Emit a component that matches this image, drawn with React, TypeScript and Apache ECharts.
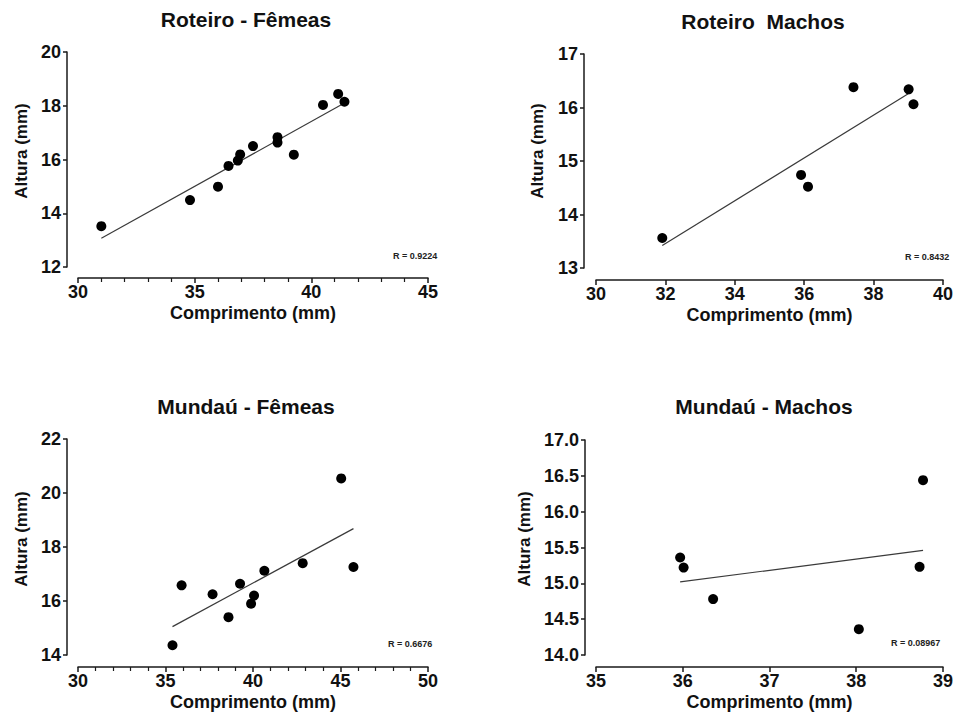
import React, { useEffect, useRef } from "react";
import * as echarts from "echarts";

// Panel titles
const titles = ["Roteiro - Fêmeas", "Roteiro  Machos", "Mundaú - Fêmeas", "Mundaú - Machos"];
const rLabels = ["R = 0.9224", "R = 0.8432", "R = 0.6676", "R = 0.08967"];

// Roteiro - Fêmeas
const rfX = [31.0, 34.8, 36.0, 36.45, 36.85, 36.95, 37.5, 38.55, 38.55, 39.25, 40.5, 41.15, 41.42];
const rfY = [13.52, 14.49, 14.99, 15.76, 15.96, 16.19, 16.5, 16.83, 16.63, 16.18, 18.03, 18.44, 18.15];
const rfFitX = [31.0, 41.42];
const rfFitY = [13.07, 18.1];

// Roteiro Machos
const rmX = [31.91, 35.91, 36.11, 37.42, 39.01, 39.15];
const rmY = [13.56, 14.74, 14.52, 16.38, 16.34, 16.06];
const rmFitX = [31.91, 39.01];
const rmFitY = [13.42, 16.26];

// Mundaú - Fêmeas
const mfX = [35.4, 35.92, 37.69, 38.6, 39.26, 39.89, 40.06, 40.65, 42.84, 45.04, 45.74];
const mfY = [14.36, 16.58, 16.25, 15.4, 16.64, 15.9, 16.2, 17.12, 17.4, 20.54, 17.26];
const mfFitX = [35.4, 45.74];
const mfFitY = [15.05, 18.68];

// Mundaú - Machos
const mmX = [35.97, 36.01, 36.35, 38.03, 38.73, 38.77];
const mmY = [15.36, 15.22, 14.78, 14.36, 15.23, 16.44];
const mmFitX = [35.97, 38.77];
const mmFitY = [15.02, 15.46];

// Axis ranges / tick intervals
const xMins = [30, 30, 30, 35];
const xMaxs = [45, 40, 50, 39];
const xIntervals = [5, 2, 5, 1];
const xMinorSplits = [5, 0, 5, 0];
const yMins = [12, 13, 14, 14];
const yMaxs = [20, 17, 22, 17];
const yIntervals = [2, 1, 2, 0.5];
const yDecimals = [0, 0, 0, 1];

const xName = "Comprimento (mm)";
const yName = "Altura (mm)";

const pointsX = [rfX, rmX, mfX, mmX];
const pointsY = [rfY, rmY, mfY, mmY];
const fitsX = [rfFitX, rmFitX, mfFitX, mmFitX];
const fitsY = [rfFitY, rmFitY, mfFitY, mmFitY];

// layout
const grids = [
  { left: 78, top: 52, width: 350, height: 215 },
  { left: 596, top: 54, width: 348, height: 214 },
  { left: 78, top: 439, width: 350, height: 216 },
  { left: 596, top: 440, width: 350, height: 215 },
];
const xOffsets = [11, 12, 12, 12];
const yOffsets = [11, 12, 11, 11];
const titlePos = [
  [246, 19],
  [763, 21],
  [246, 406],
  [764, 406],
];
const yNamePos = [
  [21.5, 151],
  [537, 151],
  [21.5, 539],
  [524.5, 539],
];
const rPos = [
  [393, 256],
  [905, 257],
  [388, 644],
  [891, 643],
];

export default function App() {
  const ref = useRef<HTMLDivElement>(null);
  useEffect(() => {
    if (!ref.current) return;
    const chart = echarts.init(ref.current, undefined, { renderer: "svg" });
    const axisColor = "#1a1a1a";
    const font = "Arial, 'Liberation Sans', Helvetica, sans-serif";

    const xAxis = grids.map((_, i) => ({
      type: "value",
      gridIndex: i,
      min: xMins[i],
      max: xMaxs[i],
      interval: xIntervals[i],
      offset: xOffsets[i],
      name: xName,
      nameLocation: "middle",
      nameGap: 26,
      nameTextStyle: { fontFamily: font, fontWeight: "bold", fontSize: 18, color: "#111" },
      axisLine: { show: true, onZero: false, lineStyle: { color: axisColor, width: 1.5 } },
      axisTick: { show: true, length: 5, lineStyle: { color: axisColor, width: 1.5 } },
      minorTick: {
        show: xMinorSplits[i] > 0,
        splitNumber: xMinorSplits[i] || 5,
        length: 4,
        lineStyle: { color: axisColor, width: 1.2 },
      },
      splitLine: { show: false },
      axisLabel: {
        margin: 5,
        fontFamily: font,
        fontWeight: "bold",
        fontSize: 18,
        color: "#111",
      },
    }));

    const yAxis = grids.map((_, i) => ({
      type: "value",
      gridIndex: i,
      min: yMins[i],
      max: yMaxs[i],
      interval: yIntervals[i],
      offset: yOffsets[i],
      axisLine: { show: true, onZero: false, lineStyle: { color: axisColor, width: 1.5 } },
      axisTick: { show: true, length: 4, lineStyle: { color: axisColor, width: 1.5 } },
      splitLine: { show: false },
      axisLabel: {
        margin: 6,
        fontFamily: font,
        fontWeight: "bold",
        fontSize: 18,
        color: "#111",
        formatter: (v: number) => v.toFixed(yDecimals[i]),
      },
    }));

    const series: any[] = [];
    grids.forEach((_, i) => {
      series.push({
        type: "line",
        xAxisIndex: i,
        yAxisIndex: i,
        data: fitsX[i].map((x, j) => [x, fitsY[i][j]]),
        symbol: "none",
        silent: true,
        lineStyle: { color: "#3a3a3a", width: 1.2 },
        z: 2,
      });
      series.push({
        type: "scatter",
        xAxisIndex: i,
        yAxisIndex: i,
        data: pointsX[i].map((x, j) => [x, pointsY[i][j]]),
        symbol: "circle",
        symbolSize: 10,
        itemStyle: { color: "#000", opacity: 1 },
        z: 3,
      });
    });

    const graphic: any[] = [];
    titles.forEach((t, i) => {
      graphic.push({
        type: "text",
        x: titlePos[i][0],
        y: titlePos[i][1],
        style: {
          text: t,
          font: `bold 21px ${font}`,
          fill: "#111",
          align: "center",
          verticalAlign: "middle",
          textAlign: "center",
          textVerticalAlign: "middle",
        },
      });
      graphic.push({
        type: "text",
        x: yNamePos[i][0],
        y: yNamePos[i][1],
        rotation: Math.PI / 2,
        style: {
          text: yName,
          font: `bold 17px ${font}`,
          fill: "#111",
          align: "center",
          verticalAlign: "middle",
          textAlign: "center",
          textVerticalAlign: "middle",
        },
      });
      graphic.push({
        type: "text",
        x: rPos[i][0],
        y: rPos[i][1],
        style: {
          text: rLabels[i],
          font: `bold 9px ${font}`,
          fill: "#222",
          align: "left",
          verticalAlign: "middle",
          textAlign: "left",
          textVerticalAlign: "middle",
        },
      });
    });

    chart.setOption({
      animation: false,
      backgroundColor: "#ffffff",
      grid: grids.map((g) => ({ ...g, containLabel: false })),
      xAxis,
      yAxis,
      series,
      graphic,
    });
    return () => chart.dispose();
  }, []);

  return (
    <div
      ref={ref}
      style={{ position: "absolute", left: 0, top: 0, width: 956, height: 712, background: "#fff" }}
    />
  );
}
